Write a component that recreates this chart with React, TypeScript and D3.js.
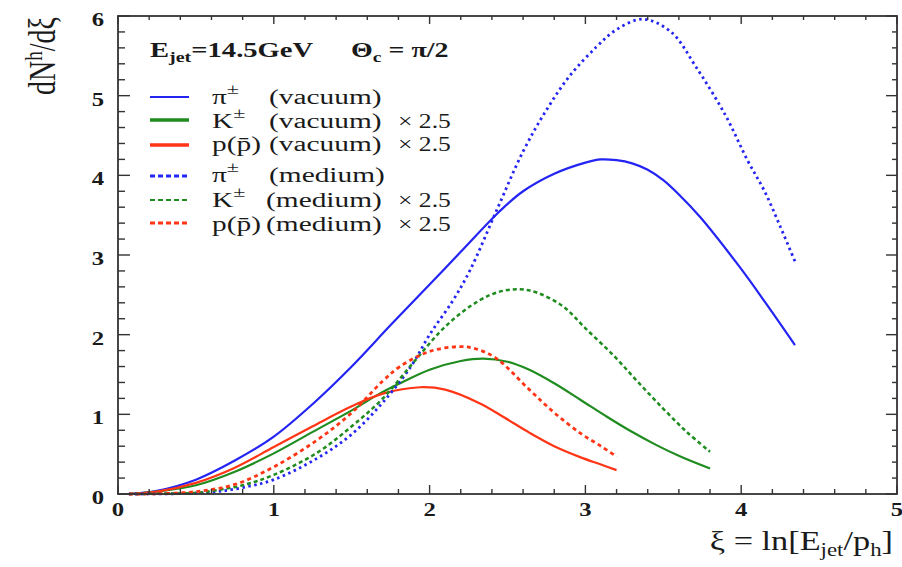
import React from 'react';
import * as d3 from 'd3';

type Pt = [number, number];

// xi = ln(E_jet/p_h), value = dN/dxi (K and p scaled by 2.5)
const piVacXi = [0.07, 0.25, 0.5, 0.75, 1.0, 1.25, 1.5, 1.75, 2.0, 2.2, 2.45, 2.6, 2.8, 3.0, 3.1, 3.2, 3.3, 3.4, 3.5, 3.6, 3.735, 3.99, 4.16, 4.345];
const piVacVal = [0, 0.04, 0.18, 0.42, 0.72, 1.13, 1.6, 2.12, 2.63, 3.04, 3.55, 3.8, 4.02, 4.16, 4.2, 4.19, 4.15, 4.07, 3.94, 3.76, 3.48, 2.85, 2.39, 1.87];

const piMedXi = [0.07, 0.3, 0.5, 0.64, 0.8, 1.0, 1.28, 1.5, 1.7, 1.88, 2.0, 2.15, 2.26, 2.43, 2.6, 2.75, 2.9, 3.07, 3.2, 3.37, 3.55, 3.71, 3.9, 4.04, 4.15, 4.25, 4.345];
const piMedVal = [0, 0.002, 0.01, 0.03, 0.08, 0.18, 0.45, 0.75, 1.15, 1.6, 2.0, 2.43, 2.81, 3.56, 4.3, 4.82, 5.25, 5.61, 5.83, 5.96, 5.8, 5.36, 4.75, 4.19, 3.8, 3.36, 2.92];

const kVacXi = [0.07, 0.25, 0.5, 0.75, 1.0, 1.25, 1.5, 1.68, 1.8, 2.0, 2.2, 2.345, 2.5, 2.64, 2.8, 2.97, 3.13, 3.29, 3.45, 3.61, 3.8];
const kVacVal = [0, 0.03, 0.11, 0.28, 0.51, 0.78, 1.05, 1.26, 1.38, 1.56, 1.67, 1.7, 1.66, 1.56, 1.39, 1.18, 0.98, 0.79, 0.62, 0.47, 0.32];

const kMedXi = [0.07, 0.3, 0.5, 0.64, 0.8, 1.0, 1.28, 1.5, 1.7, 1.9, 2.11, 2.32, 2.45, 2.58, 2.7, 2.86, 3.0, 3.18, 3.34, 3.5, 3.65, 3.8];
const kMedVal = [0, 0.005, 0.015, 0.05, 0.11, 0.24, 0.52, 0.85, 1.2, 1.66, 2.12, 2.43, 2.54, 2.57, 2.52, 2.35, 2.08, 1.74, 1.4, 1.07, 0.78, 0.53];

const pVacXi = [0.07, 0.25, 0.5, 0.75, 1.0, 1.25, 1.5, 1.7, 1.94, 2.1, 2.32, 2.48, 2.64, 2.8, 2.97, 3.1, 3.2];
const pVacVal = [0, 0.03, 0.14, 0.33, 0.59, 0.85, 1.1, 1.26, 1.34, 1.31, 1.14, 0.96, 0.77, 0.6, 0.46, 0.37, 0.3];

const pMedXi = [0.07, 0.25, 0.5, 0.75, 1.0, 1.28, 1.5, 1.7, 1.81, 2.0, 2.195, 2.3, 2.43, 2.64, 2.8, 2.97, 3.1, 3.2];
const pMedVal = [0, 0.003, 0.03, 0.12, 0.34, 0.68, 1.02, 1.42, 1.6, 1.79, 1.85, 1.82, 1.7, 1.31, 1.02, 0.76, 0.6, 0.47];

const xTicks = [0, 1, 2, 3, 4, 5];
const yTicks = [0, 1, 2, 3, 4, 5, 6];

const BLUE = '#2424f5';
const GREEN = '#1f8c1f';
const RED = '#ff3516';
const INK = '#1a1a1a';
const SERIF = '"Liberation Serif", "Times New Roman", serif';
const SX = 1.4; // the original figure is stretched horizontally

const zip = (a: number[], b: number[]): Pt[] => a.map((v, i) => [v, b[i]]);

const series = [
  { pts: zip(piVacXi, piVacVal), color: BLUE, width: 2.2, dash: undefined as string | undefined },
  { pts: zip(kVacXi, kVacVal), color: GREEN, width: 2.2, dash: undefined },
  { pts: zip(pVacXi, pVacVal), color: RED, width: 2.2, dash: undefined },
  { pts: zip(piMedXi, piMedVal), color: BLUE, width: 2.8, dash: '2.5,3.5' },
  { pts: zip(kMedXi, kMedVal), color: GREEN, width: 2.5, dash: '4,3' },
  { pts: zip(pMedXi, pMedVal), color: RED, width: 2.8, dash: '4,3.5' },
];

const legendRows = [
  { color: BLUE, width: 2, dash: undefined as string | undefined, ly: 97, ty: 104, sym: 'pi', env: '(vacuum)', envX: 269, scale: false },
  { color: GREEN, width: 3.4, dash: undefined, ly: 120, ty: 128, sym: 'K', env: '(vacuum)', envX: 269, scale: true },
  { color: RED, width: 3.4, dash: undefined, ly: 145, ty: 151, sym: 'p', env: '(vacuum)', envX: 269, scale: true },
  { color: BLUE, width: 2.8, dash: '5,3', ly: 176, ty: 182, sym: 'pi', env: '(medium)', envX: 269, scale: false },
  { color: GREEN, width: 2, dash: '5,3', ly: 200, ty: 207, sym: 'K', env: '(medium)', envX: 266, scale: true },
  { color: RED, width: 3, dash: '5,3', ly: 223, ty: 231, sym: 'p', env: '(medium)', envX: 266, scale: true },
];

function ST({ x, y, sx = SX, anchor, size, bold, children }: { x: number; y: number; sx?: number; anchor?: string; size: number; bold?: boolean; children: React.ReactNode }) {
  return (
    <text transform={`translate(${x},${y}) scale(${sx},1)`} textAnchor={anchor} fontSize={size}
      fontWeight={bold ? 'bold' : undefined} fill={INK} style={{ fontFamily: SERIF }}>
      {children}
    </text>
  );
}

export default function App() {
  const W = 902, H = 567;
  const left = 118, right = 897, top = 16, bottom = 494;
  const x = d3.scaleLinear().domain([0, 5]).range([left, right]);
  const y = d3.scaleLinear().domain([0, 6]).range([bottom, top]);
  const line = d3.line<Pt>().x(d => x(d[0])).y(d => y(d[1])).curve(d3.curveCatmullRom.alpha(0.5));

  const xMinor = d3.range(0, 5.0001, 0.2);
  const yMinor = d3.range(0, 6.0001, 0.2);
  const isMajor = (v: number) => Math.abs(v - Math.round(v)) < 1e-6;
  const axisColor = '#333';

  return (
    <svg width={W} height={H} style={{ position: 'absolute', left: 0, top: 0, background: '#fff' }}>
      <rect x={0} y={0} width={W} height={H} fill="#fff" />

      {series.map((s, i) => (
        <path key={i} d={line(s.pts) || ''} fill="none" stroke={s.color} strokeWidth={s.width}
          strokeDasharray={s.dash} />
      ))}

      {xMinor.map((v, i) => {
        const len = isMajor(v) ? 9 : 5;
        return (
          <g key={'xt' + i} stroke={axisColor} strokeWidth={1.4}>
            <line x1={x(v)} x2={x(v)} y1={bottom} y2={bottom - len} />
            <line x1={x(v)} x2={x(v)} y1={top} y2={top + len - 1} />
          </g>
        );
      })}
      {yMinor.map((v, i) => {
        const major = isMajor(v);
        return (
          <g key={'yt' + i} stroke={axisColor} strokeWidth={1.4}>
            <line x1={left} x2={left + (major ? 12 : 7)} y1={y(v)} y2={y(v)} />
            <line x1={right} x2={right - (major ? 11 : 5)} y1={y(v)} y2={y(v)} />
          </g>
        );
      })}

      <rect x={left} y={top} width={right - left} height={bottom - top} fill="none" stroke={axisColor} strokeWidth={1.8} />

      {xTicks.map(v => (
        <ST key={'xl' + v} x={x(v)} y={bottom + 22} anchor="middle" size={19} sx={1.3} bold>{v}</ST>
      ))}
      {yTicks.map(v => (
        <ST key={'yl' + v} x={104} y={y(v) + 10} anchor="end" size={19} sx={1.3} bold>{v}</ST>
      ))}

      {/* axis titles */}
      <text transform={`translate(55,17) scale(1.35,1) rotate(-90)`} textAnchor="end" fontSize={28} fill={INK} style={{ fontFamily: SERIF }}>
        dN<tspan dy={-10} fontSize={19}>h</tspan><tspan dy={10}>/dξ</tspan>
      </text>
      <ST x={893} y={550} anchor="end" size={27} sx={1.27}>
        ξ = ln[E<tspan dy={6} fontSize={18}>jet</tspan><tspan dy={-6}>/p</tspan><tspan dy={6} fontSize={18}>h</tspan><tspan dy={-6}>]</tspan>
      </ST>

      {/* header */}
      <ST x={150} y={57} size={20} sx={1.43} bold>
        E<tspan dy={5} fontSize={14}>jet</tspan><tspan dy={-5}>=14.5GeV</tspan>
      </ST>
      <ST x={351} y={57} size={20} bold>
        Θ<tspan dy={5} fontSize={14}>c</tspan><tspan dy={-5}> = π/2</tspan>
      </ST>

      {/* legend */}
      {legendRows.map((r, i) => (
        <g key={'lg' + i}>
          <line x1={150} x2={189} y1={r.ly} y2={r.ly} stroke={r.color} strokeWidth={r.width} strokeDasharray={r.dash} />
          {r.sym === 'pi' && (
            <ST x={212} y={r.ty} size={20} sx={1.47}>π<tspan dy={-10} fontSize={15}>±</tspan></ST>
          )}
          {r.sym === 'K' && (
            <ST x={212} y={r.ty} size={20} sx={1.47}>K<tspan dy={-10} fontSize={15}>±</tspan></ST>
          )}
          {r.sym === 'p' && <ST x={212} y={r.ty} size={20} sx={1.47}>p(p̄)</ST>}
          <ST x={r.envX} y={r.ty} size={20} sx={1.47}>{r.env}</ST>
          {r.scale && <ST x={398} y={r.ty} size={20} sx={1.28}>× 2.5</ST>}
        </g>
      ))}
    </svg>
  );
}
